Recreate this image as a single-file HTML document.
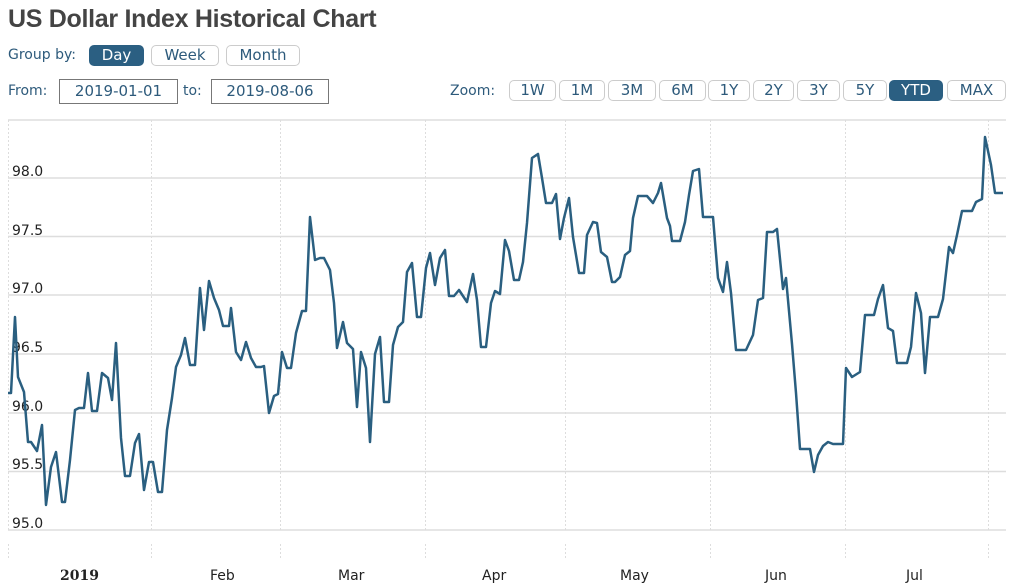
<!DOCTYPE html>
<html><head><meta charset="utf-8"><style>
body{margin:0;width:1016px;height:588px;background:#fff;font-family:"DejaVu Sans","Liberation Sans",sans-serif;overflow:hidden;position:relative}
.t{position:absolute;left:8px;top:5px;font-size:25px;color:#444;font-family:"Liberation Sans",sans-serif;font-weight:bold;letter-spacing:-0.3px}
.l{position:absolute;font-size:14px;color:#2d5a7b}
.b{position:absolute;border:1px solid #ccc;border-radius:5px;font-size:15px;color:#2d5a7b;text-align:center;box-sizing:border-box;line-height:19px;height:21px}
.on{background:#2b5f82;color:#fff;border-color:#2b5f82}
.d{position:absolute;border:1px solid #777;font-size:15px;color:#2d5a7b;box-sizing:border-box;height:25px;line-height:23px;text-align:center;top:79px}
</style></head><body>
<div class="t">US Dollar Index Historical Chart</div>
<div class="l" style="left:8px;top:47px">Group by:</div>
<div class="b on" style="left:89px;top:45px;width:55px">Day</div>
<div class="b" style="left:151px;top:45px;width:68px">Week</div>
<div class="b" style="left:226px;top:45px;width:74px">Month</div>
<div class="l" style="left:8px;top:83px">From:</div>
<div class="d" style="left:59px;width:119px">2019-01-01</div>
<div class="l" style="left:183px;top:83px">to:</div>
<div class="d" style="left:211px;width:118px">2019-08-06</div>
<div class="l" style="left:450px;top:83px">Zoom:</div>
<div class="b" style="left:509px;top:80px;width:47px">1W</div>
<div class="b" style="left:559px;top:80px;width:46px">1M</div>
<div class="b" style="left:608px;top:80px;width:48px">3M</div>
<div class="b" style="left:659px;top:80px;width:47px">6M</div>
<div class="b" style="left:708px;top:80px;width:42px">1Y</div>
<div class="b" style="left:753px;top:80px;width:41px">2Y</div>
<div class="b" style="left:797px;top:80px;width:43px">3Y</div>
<div class="b" style="left:843px;top:80px;width:44px">5Y</div>
<div class="b on" style="left:889px;top:80px;width:54px">YTD</div>
<div class="b" style="left:947px;top:80px;width:59px">MAX</div>
<svg width="1016" height="588" style="position:absolute;left:0;top:0">
<g stroke="#ddd" stroke-width="1" stroke-dasharray="2,2">
<path d="M8.5 120V530M151.5 120V530M280.5 120V530M425.5 120V530M565.5 120V530M710.5 120V530M845.5 120V530M988.5 120V530"/>
<path d="M8.5 544V558M151.5 544V558M280.5 544V558M425.5 544V558M565.5 544V558M710.5 544V558M845.5 544V558M988.5 544V558"/>
</g>
<g stroke="#ddd" stroke-width="1.5"><path d="M8 120H1006M8 178H1006M8 236.5H1006M8 295H1006M8 354H1006M8 413H1006M8 471.5H1006M8 530H1006"/></g>
<g font-size="14" fill="#222" font-family="DejaVu Sans,sans-serif">
<text x="12" y="176">98.0</text><text x="12" y="235">97.5</text><text x="12" y="293">97.0</text><text x="12" y="352">96.5</text><text x="12" y="411">96.0</text><text x="12" y="469">95.5</text><text x="12" y="528">95.0</text>
<text x="60" y="580" font-weight="bold" font-family="DejaVu Serif,serif">2019</text>
<text x="210" y="580">Feb</text><text x="338" y="580">Mar</text><text x="482" y="580">Apr</text><text x="620" y="580">May</text><text x="765" y="580">Jun</text><text x="906" y="580">Jul</text>
</g>
<polyline fill="none" stroke="#2a5f80" stroke-width="2.5" stroke-linejoin="round" points="8,393 11,393 15,317 18,377 24,392 28,442 31,442 37,451 42,425 46,505 51,467 56,452 62,502 65,502 70,460 75,410 79,408 84,408 88,373 92,411 97,411 102,373 108,378 112,400 116,343 121,438 125,476 130,476 135,443 139,434 144,490 149,462 153,462 158,492 162,492 167,430 172,398 176,367 181,355 185,338 190,365 195,365 200,288 204,330 209,281 214,298 219,310 223,326 229,326 231,308 236,352 241,360 246,342 251,358 256,367 261,367 264,366 269,413 274,396 278,394 282,352 287,368 291,368 296,333 302,311 306,311 310,217 315,260 320,258 324,258 330,270 334,303 337,348 343,322 347,343 353,349 357,407 361,352 366,368 370,442 375,354 380,337 384,402 389,402 393,345 398,327 403,322 407,272 412,263 417,317 421,317 426,268 430,253 435,285 440,258 445,250 449,296 454,296 459,290 467,302 473,274 477,300 481,347 486,347 491,303 495,291 500,294 505,240 509,251 514,280 519,280 523,262 527,223 532,158 538,154 542,178 546,203 552,203 556,194 560,239 564,218 569,198 573,237 579,273 584,273 587,235 593,222 597,223 601,252 607,257 612,282 615,282 620,277 625,255 630,251 633,218 638,196 647,196 653,203 658,193 661,183 667,218 670,226 672,241 680,241 685,222 689,195 693,171 699,169 703,217 713,217 718,278 723,292 727,262 731,293 736,350 746,350 753,335 758,300 763,298 767,232 773,232 777,229 783,289 786,278 792,344 796,393 800,449 810,449 814,472 818,455 823,446 828,442 833,444 843,444 846,368 852,377 860,372 865,315 874,315 878,299 883,285 888,328 893,331 897,363 907,363 911,347 916,293 921,313 925,373 930,317 938,317 943,299 949,247 953,253 957,235 962,211 972,211 976,202 982,199 985,137 991,165 995,193 1003,193"/>
</svg>
</body></html>
